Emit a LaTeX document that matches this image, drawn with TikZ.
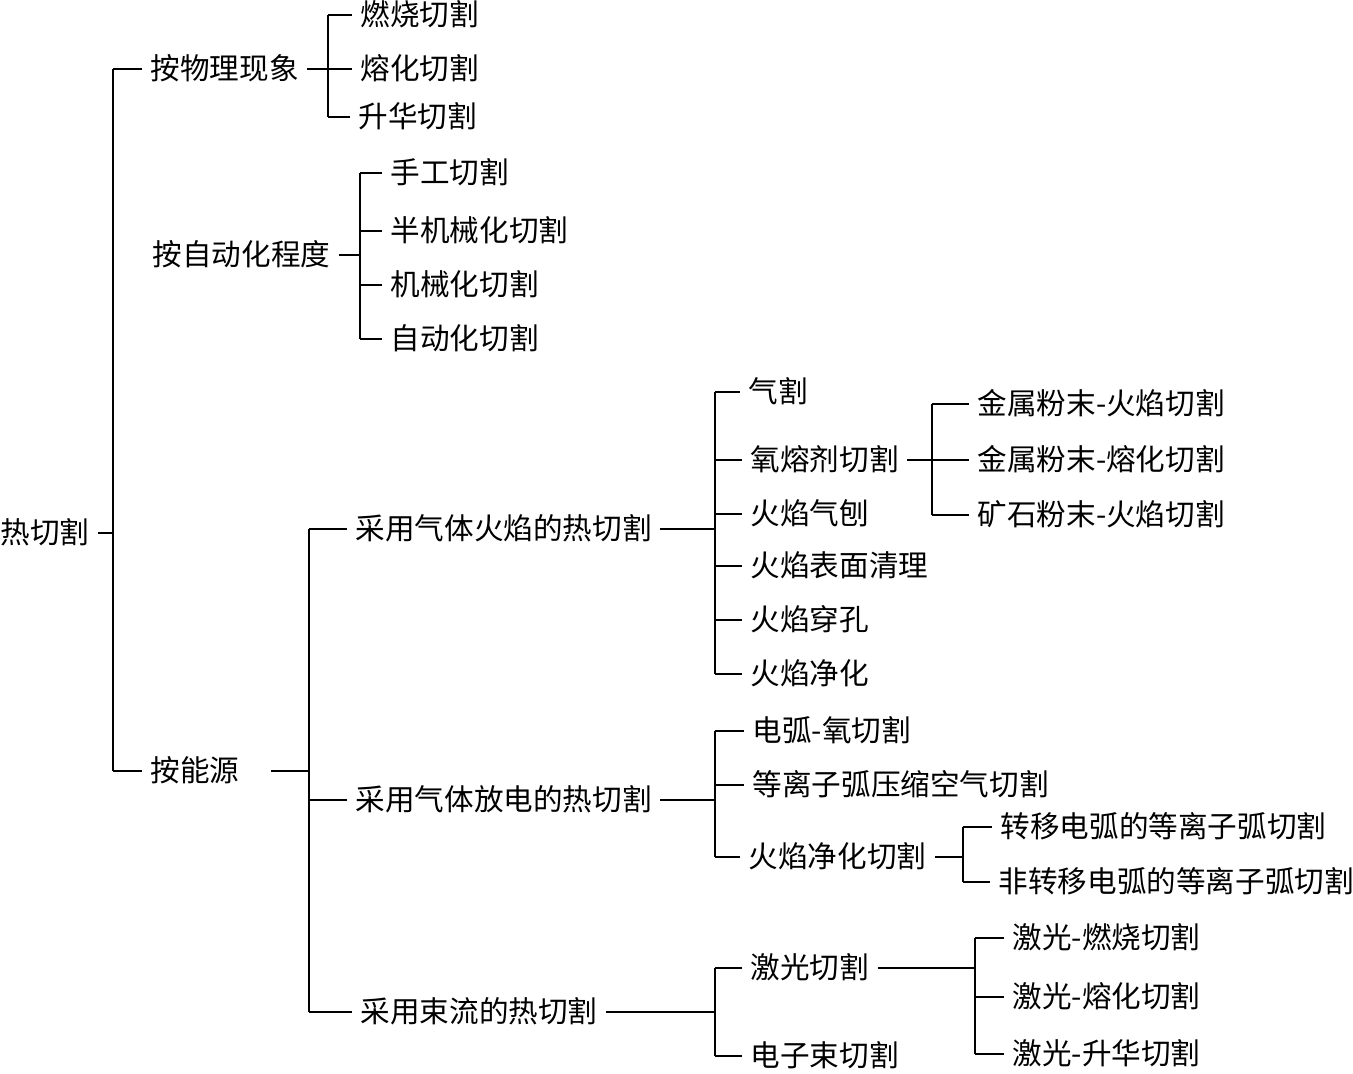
\documentclass[tikz,border=0pt]{standalone}
\usepackage{fontspec}
\setmainfont{Noto Sans CJK SC}
\usepackage{tikz}
\usetikzlibrary{calc}

\begin{document}
\begin{tikzpicture}[x=0.5pt,y=-0.5pt,line width=0.7pt,
  leaf/.style={anchor=west,inner xsep=4pt,inner ysep=0pt,text height=1em,text depth=0pt,
    font=\fontsize{14.8pt}{18pt}\selectfont}]
  \useasboundingbox (0,0) rectangle (1353,1073);
  % root and first level
  \node[leaf] (root) at (-8,533) {热切割};
  \node[leaf] (phys) at (142,69) {按物理现象};
  \node[leaf] (auto) at (144,255) {按自动化程度};
  \node[leaf] (energy) at (142,771) {按能源};
  % by physical phenomenon
  \node[leaf] (burn) at (352,15) {燃烧切割};
  \node[leaf] (melt) at (352,69) {熔化切割};
  \node[leaf] (subl) at (350,117) {升华切割};
  % by degree of automation
  \node[leaf] (manual) at (382,173) {手工切割};
  \node[leaf] (semi) at (382,231) {半机械化切割};
  \node[leaf] (mech) at (382,285) {机械化切割};
  \node[leaf] (autom) at (382,339) {自动化切割};
  % by energy source
  \node[leaf] (flame) at (347,529) {采用气体火焰的热切割};
  \node[leaf] (arc) at (347,800) {采用气体放电的热切割};
  \node[leaf] (beam) at (352,1012) {采用束流的热切割};
  \node[leaf] (gascut) at (740,392) {气割};
  \node[leaf] (oxflux) at (742,460) {氧熔剂切割};
  \node[leaf] (gouge) at (742,514) {火焰气刨};
  \node[leaf] (scarf) at (742,566) {火焰表面清理};
  \node[leaf] (pierce) at (742,620) {火焰穿孔};
  \node[leaf] (clean) at (742,674) {火焰净化};
  \node[leaf] (mpf) at (969,404) {金属粉末-火焰切割};
  \node[leaf] (mpm) at (969,460) {金属粉末-熔化切割};
  \node[leaf] (opf) at (969,515) {矿石粉末-火焰切割};
  \node[leaf] (arcox) at (744,731) {电弧-氧切割};
  \node[leaf] (plasair) at (744,785) {等离子弧压缩空气切割};
  \node[leaf] (arcclean) at (740,857) {火焰净化切割};
  \node[leaf] (trans) at (992,827) {转移电弧的等离子弧切割};
  \node[leaf] (nontrans) at (990,882) {非转移电弧的等离子弧切割};
  \node[leaf] (laser) at (742,968) {激光切割};
  \node[leaf] (ebeam) at (742,1056) {电子束切割};
  \node[leaf] (lburn) at (1004,938) {激光-燃烧切割};
  \node[leaf] (lmelt) at (1004,997) {激光-熔化切割};
  \node[leaf] (lsubl) at (1004,1054) {激光-升华切割};
  % junction columns
  \coordinate (j0) at (113,0);
  \coordinate (j1) at (328,0);
  \coordinate (j2) at (360,0);
  \coordinate (j3) at (309,0);
  \coordinate (j4) at (715,0);
  \coordinate (j5) at (932,0);
  \coordinate (j6) at (963,0);
  \coordinate (j7) at (975,0);
  % trunk
  \draw (root.east) -- (root.east -| j0);
  \draw (phys.west -| j0) -- (energy.west -| j0);
  \foreach \c in {phys,energy} \draw (\c.west) -- (\c.west -| j0);
  % physical phenomenon
  \draw (phys.east) -- (phys.east -| j1);
  \draw (burn.west -| j1) -- (subl.west -| j1);
  \foreach \c in {burn,melt,subl} \draw (\c.west) -- (\c.west -| j1);
  % automation
  \draw (auto.east) -- (auto.east -| j2);
  \draw (manual.west -| j2) -- (autom.west -| j2);
  \foreach \c in {manual,semi,mech,autom} \draw (\c.west) -- (\c.west -| j2);
  % energy source
  \draw ([xshift=11.5pt]energy.east) -- (energy.east -| j3);
  \draw (flame.west -| j3) -- (beam.west -| j3);
  \foreach \c in {flame,arc,beam} \draw (\c.west) -- (\c.west -| j3);
  % gas flame
  \draw (flame.east) -- (flame.east -| j4);
  \draw (gascut.west -| j4) -- (clean.west -| j4);
  \foreach \c in {gascut,oxflux,gouge,scarf,pierce,clean} \draw (\c.west) -- (\c.west -| j4);
  \draw (oxflux.east) -- (oxflux.east -| j5);
  \draw (mpf.west -| j5) -- (opf.west -| j5);
  \foreach \c in {mpf,mpm,opf} \draw (\c.west) -- (\c.west -| j5);
  % gas discharge
  \draw (arc.east) -- (arc.east -| j4);
  \draw (arcox.west -| j4) -- (arcclean.west -| j4);
  \foreach \c in {arcox,plasair,arcclean} \draw (\c.west) -- (\c.west -| j4);
  \draw (arcclean.east) -- (arcclean.east -| j6);
  \draw (trans.west -| j6) -- (nontrans.west -| j6);
  \foreach \c in {trans,nontrans} \draw (\c.west) -- (\c.west -| j6);
  % beam
  \draw (beam.east) -- (beam.east -| j4);
  \draw (laser.west -| j4) -- (ebeam.west -| j4);
  \foreach \c in {laser,ebeam} \draw (\c.west) -- (\c.west -| j4);
  \draw (laser.east) -- (laser.east -| j7);
  \draw (lburn.west -| j7) -- (lsubl.west -| j7);
  \foreach \c in {lburn,lmelt,lsubl} \draw (\c.west) -- (\c.west -| j7);
\end{tikzpicture}
\end{document}
